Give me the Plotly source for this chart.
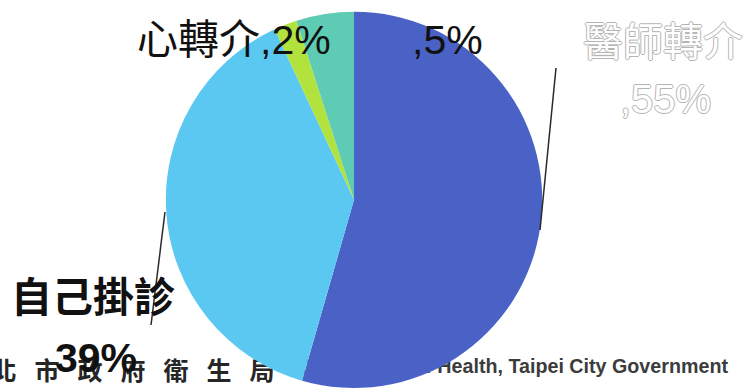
import plotly.graph_objects as go

# Referral sources (percent), clockwise from 12 o'clock
sources = ["醫師轉介", "自己掛診", "心轉介", "其他"]
shares = [55, 39, 2, 5]
colors = ["#4A62C6", "#5BC8F1", "#B2E23E", "#5ECCB4"]

# Label text shown next to the pie
label_lines = {
    "doctor": ["醫師轉介", ",55%"],
    "self": ["自己掛診", "39%"],
    "centre": ["心轉介,2%"],
    "other": [",5%"],
}

# Footer credit line
footer_zh = "臺北市政府衛生局"
footer_en = "Department of Health, Taipei City Government"

W, H = 751, 388
CJK = "Liberation Sans, Noto Sans CJK TC, sans-serif"

fig = go.Figure()

# Footer sits on the cartesian layer so the pie covers part of it
zh_pitch = 43
zh_x0 = 4 - zh_pitch
fig.add_trace(go.Scatter(
    x=[zh_x0 + i * zh_pitch for i in range(len(footer_zh))],
    y=[374] * len(footer_zh),
    mode="text",
    text=list(footer_zh),
    textposition="middle center",
    textfont=dict(family=CJK, size=25, color="#262626", weight="bold"),
    hoverinfo="skip", showlegend=False, cliponaxis=False,
))
fig.add_trace(go.Scatter(
    x=[728], y=[368],
    mode="text",
    text=[footer_en],
    textposition="middle left",
    textfont=dict(family="Liberation Sans, Arial, sans-serif", size=19.7,
                  color="#3c3c3c", weight="bold"),
    hoverinfo="skip", showlegend=False, cliponaxis=False,
))

fig.add_trace(go.Pie(
    labels=sources,
    values=shares,
    sort=False,
    direction="clockwise",
    rotation=0,
    marker=dict(colors=colors, line=dict(width=0)),
    textinfo="none",
    hoverinfo="label+percent",
    showlegend=False,
    domain=dict(x=[0.2184, 0.7244], y=[0.0, 0.97]),
))

annotations = []


def label(text, x, y, size=40, bold=False, ghost=False):
    font = dict(family=CJK, size=size, color="#111111",
                weight="bold" if bold else "normal")
    if ghost:
        font["color"] = "#ffffff"
        font["shadow"] = ("1px 0 0 #b4b4b4, -1px 0 0 #b4b4b4, "
                          "0 1px 0 #b4b4b4, 0 -1px 0 #b4b4b4")
    annotations.append(dict(
        text=text, x=x, y=y, xref="x", yref="y",
        showarrow=False, xanchor="center", yanchor="middle", font=font,
    ))


label(label_lines["centre"][0], 234, 40, size=41)
label(label_lines["other"][0], 447, 40, size=41)
label(label_lines["doctor"][0], 663, 42, ghost=True)
label(label_lines["doctor"][1], 665, 99, ghost=True)
label(label_lines["self"][0], 93, 298, size=41, bold=True)
label(label_lines["self"][1], 96, 358, size=41, bold=True)

shapes = [
    dict(type="line", xref="x", yref="y", x0=556, y0=68, x1=540, y1=230,
         line=dict(color="#2a2a2a", width=1.5), layer="above"),
    dict(type="line", xref="x", yref="y", x0=165, y0=212, x1=151, y1=325,
         line=dict(color="#2a2a2a", width=1.5), layer="above"),
]

fig.update_layout(
    width=W, height=H,
    margin=dict(l=0, r=0, t=0, b=0),
    paper_bgcolor="#ffffff",
    plot_bgcolor="#ffffff",
    xaxis=dict(range=[0, W], visible=False, fixedrange=True),
    yaxis=dict(range=[H, 0], visible=False, fixedrange=True),
    annotations=annotations,
    shapes=shapes,
)

fig.write_html("out.html")
